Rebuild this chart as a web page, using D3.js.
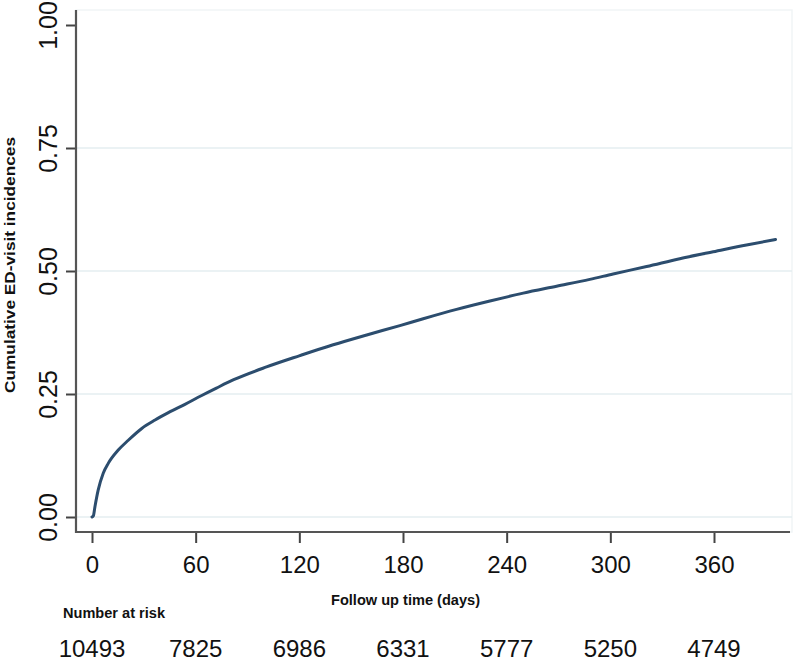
<!DOCTYPE html>
<html>
<head>
<meta charset="utf-8">
<script src="https://cdn.jsdelivr.net/npm/d3@7"></script>
<style>
  body { margin: 0; background: #fff; }
  svg text { font-family: "Liberation Sans", Arial, sans-serif; fill: #111; }
</style>
</head>
<body>
<svg id="chart" width="795" height="664"></svg>
<script>
// cumulative incidence (days, value)
const days = [0, 0.75, 1.7, 3.6, 6.5, 9.4, 15.2, 21, 28.8, 36.5, 44.2, 53.8, 63.5, 72, 82, 101, 120.3, 139.6, 159, 178.2, 191.7, 211, 230.3, 249.6, 268.9, 288.1, 301.6, 321, 340.2, 359.5, 378.8, 395.6];
const incidence = [0, 0.002, 0.021, 0.055, 0.089, 0.109, 0.136, 0.156, 0.180, 0.197, 0.212, 0.229, 0.247, 0.262, 0.279, 0.305, 0.328, 0.350, 0.370, 0.389, 0.403, 0.422, 0.439, 0.455, 0.469, 0.483, 0.494, 0.509, 0.525, 0.539, 0.553, 0.564];

const xTicks = [0, 60, 120, 180, 240, 300, 360];
const yTicks = [0, 0.25, 0.5, 0.75, 1];
const riskDays = [0, 60, 120, 180, 240, 300, 360];
const riskCounts = [10493, 7825, 6986, 6331, 5777, 5250, 4749];

const svg = d3.select("#chart");

const x = d3.scaleLinear().domain([0, 360]).range([92, 714]);
const y = d3.scaleLinear().domain([0, 1]).range([517, 25]);

const axisLeftX = 76, axisBottomY = 532, plotTop = 10, plotRight = 792;

// faint plot region outline
svg.append("rect")
	.attr("x", axisLeftX).attr("y", plotTop)
	.attr("width", plotRight - axisLeftX).attr("height", axisBottomY - plotTop)
	.attr("fill", "none").attr("stroke", "#f1f5f6").attr("stroke-width", 1.5);

// gridlines
svg.append("g").selectAll("line")
	.data(yTicks.filter(d => d < 1))
	.join("line")
	.attr("x1", axisLeftX).attr("x2", plotRight)
	.attr("y1", d => y(d)).attr("y2", d => y(d))
	.attr("stroke", "#e5eef1").attr("stroke-width", 1.6);

// curve
const line = d3.line()
	.x((d, i) => x(days[i]))
	.y((d, i) => y(incidence[i]))
	.curve(d3.curveMonotoneX);

svg.append("path")
	.datum(incidence)
	.attr("d", line)
	.attr("fill", "none")
	.attr("stroke", "#2c4d6e")
	.attr("stroke-width", 3)
	.attr("stroke-linecap", "round");

// y axis
const gy = svg.append("g")
	.attr("transform", `translate(${axisLeftX},0)`)
	.call(d3.axisLeft(y).tickValues(yTicks).tickFormat(d3.format(".2f")).tickSize(10));
gy.select(".domain").remove();
gy.selectAll(".tick line").attr("stroke", "#444").attr("stroke-width", 2);
gy.selectAll(".tick text")
	.attr("transform", "rotate(-90)")
	.attr("x", 0).attr("y", -19).attr("dy", 0)
	.attr("text-anchor", "middle")
	.style("font-size", "25px")
	.style("font-family", "'Liberation Sans', Arial, sans-serif")
	.attr("fill", "#111");

// x axis
const gx = svg.append("g")
	.attr("transform", `translate(0,${axisBottomY})`)
	.call(d3.axisBottom(x).tickValues(xTicks).tickSize(11));
gx.select(".domain").remove();
gx.selectAll(".tick line").attr("stroke", "#444").attr("stroke-width", 2);
gx.selectAll(".tick text")
	.attr("y", 41).attr("dy", 0)
	.style("font-size", "24px")
	.style("font-family", "'Liberation Sans', Arial, sans-serif")
	.attr("fill", "#111");

// axis lines
svg.append("line")
	.attr("x1", axisLeftX).attr("x2", axisLeftX)
	.attr("y1", plotTop).attr("y2", axisBottomY + 1)
	.attr("stroke", "#555").attr("stroke-width", 2.2);
svg.append("line")
	.attr("x1", axisLeftX - 1).attr("x2", 790)
	.attr("y1", axisBottomY).attr("y2", axisBottomY)
	.attr("stroke", "#555").attr("stroke-width", 2.2);

// titles
svg.append("text")
	.attr("transform", "translate(15,393) rotate(-90)")
	.attr("textLength", 256).attr("lengthAdjust", "spacingAndGlyphs")
	.style("font-size", "15px").style("font-weight", "bold")
	.text("Cumulative ED-visit incidences");

svg.append("text")
	.attr("x", 331).attr("y", 605)
	.attr("textLength", 149).attr("lengthAdjust", "spacingAndGlyphs")
	.style("font-size", "14px").style("font-weight", "bold")
	.text("Follow up time (days)");

svg.append("text")
	.attr("x", 63).attr("y", 618)
	.attr("textLength", 102).attr("lengthAdjust", "spacingAndGlyphs")
	.style("font-size", "14px").style("font-weight", "bold")
	.text("Number at risk");

// number at risk row
svg.append("g").selectAll("text")
	.data(riskCounts)
	.join("text")
	.attr("x", (d, i) => x(riskDays[i]))
	.attr("y", 657)
	.attr("text-anchor", "middle")
	.style("font-size", "24px")
	.text(d => d);
</script>
</body>
</html>
